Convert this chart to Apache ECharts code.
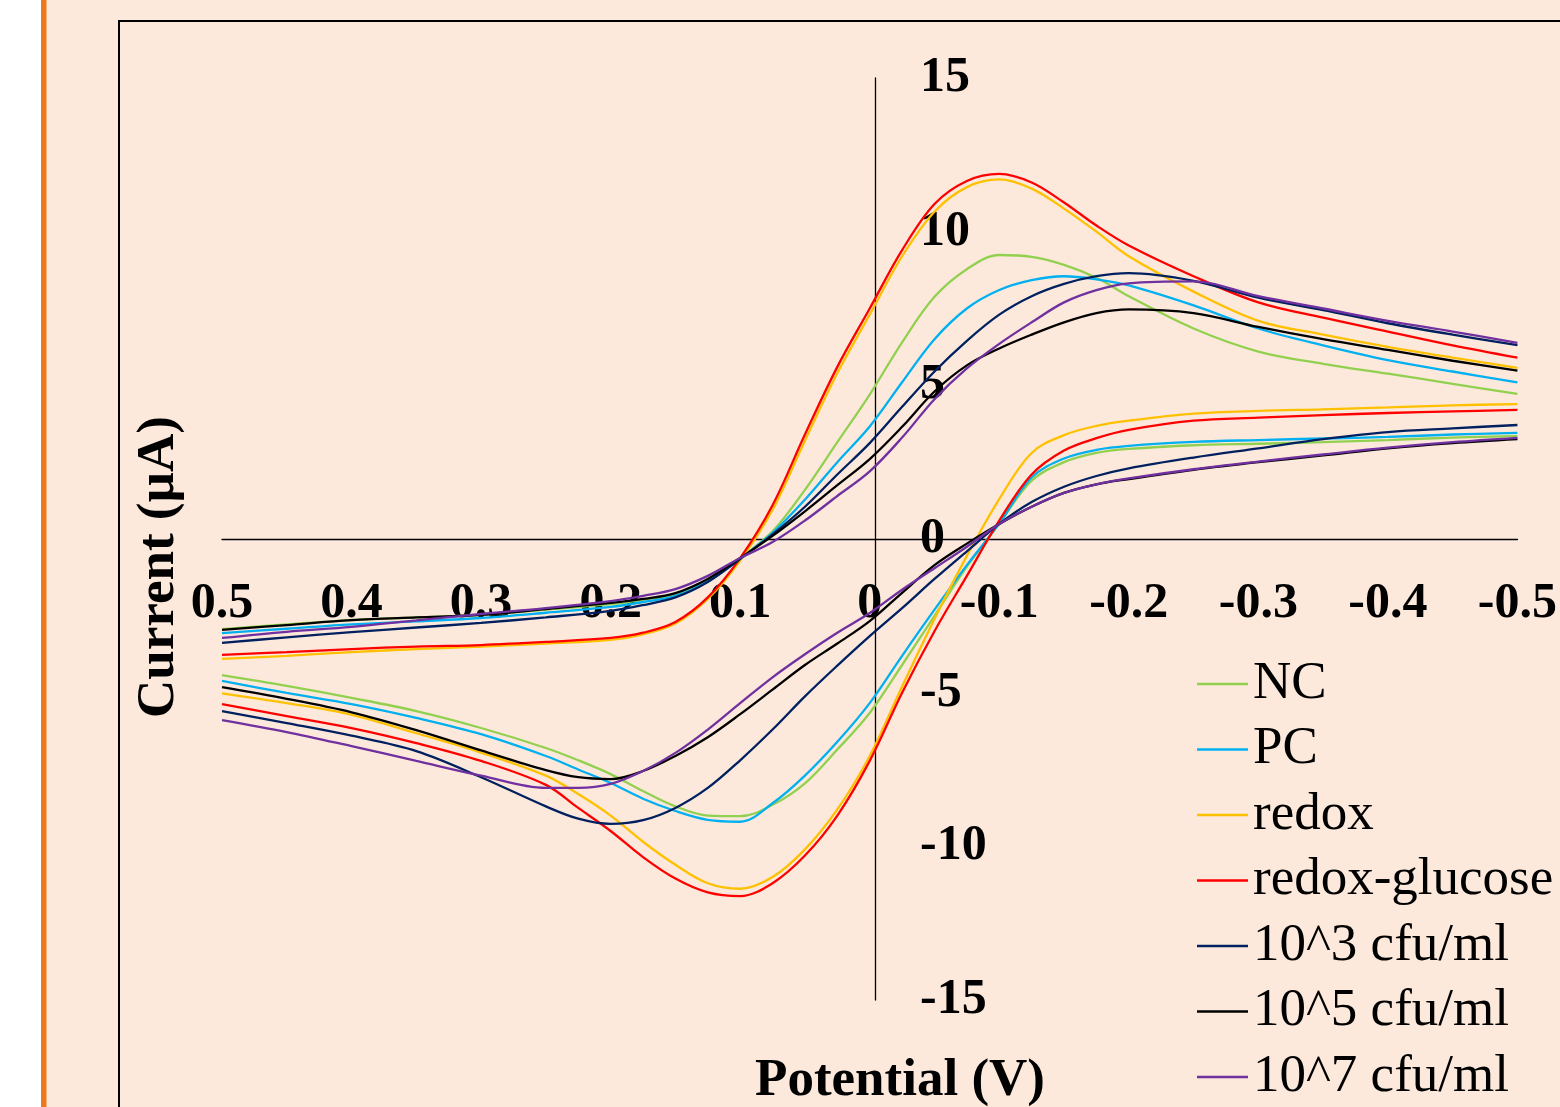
<!DOCTYPE html>
<html>
<head>
<meta charset="utf-8">
<script src="https://cdn.jsdelivr.net/npm/echarts@6/dist/echarts.min.js"></script>
<style>
html,body{margin:0;padding:0;background:#ffffff;}
#chart{width:1560px;height:1107px;}
</style>
</head>
<body>
<div id="chart"></div>
<script>
// Potential (V) sampled along the forward and reverse sweeps
const potentialForward = [0.5,0.45,0.4,0.35,0.3,0.25,0.2,0.175,0.15,0.125,0.1,0.075,0.05,0.025,0,-0.025,-0.05,-0.075,-0.1,-0.125,-0.15,-0.175,-0.2,-0.25,-0.3,-0.35,-0.4,-0.45,-0.5];
const potentialReverse = [-0.5,-0.45,-0.4,-0.35,-0.3,-0.25,-0.2,-0.175,-0.15,-0.125,-0.1,-0.075,-0.05,-0.025,0,0.025,0.05,0.075,0.1,0.125,0.15,0.175,0.2,0.225,0.25,0.3,0.35,0.4,0.45,0.5];

// Current (µA)
const ncForward = [-2.93,-2.78,-2.64,-2.55,-2.47,-2.3,-2.12,-1.98,-1.79,-1.32,-0.62,0.25,1.6,3.15,4.7,6.4,7.88,8.78,9.24,9.18,8.92,8.5,7.9,6.85,6.1,5.7,5.38,5.05,4.72];
const ncReverse = [3.35,3.3,3.22,3.15,3.1,3.05,2.93,2.8,2.5,1.9,0.5,-0.9,-2.5,-4.1,-5.66,-6.85,-7.95,-8.65,-9.02,-9.0,-8.7,-8.2,-7.65,-7.2,-6.8,-6.15,-5.6,-5.17,-4.78,-4.43];

const pcForward = [-3.06,-2.92,-2.78,-2.68,-2.57,-2.4,-2.21,-2.05,-1.85,-1.38,-0.64,0.2,1.28,2.5,3.66,5.1,6.5,7.5,8.1,8.42,8.55,8.45,8.25,7.6,6.85,6.3,5.82,5.45,5.1];
const pcReverse = [3.45,3.4,3.32,3.27,3.22,3.16,3.03,2.9,2.62,2.0,0.5,-0.85,-2.3,-3.8,-5.34,-6.6,-7.7,-8.6,-9.2,-9.14,-8.85,-8.45,-7.94,-7.5,-7.06,-6.35,-5.82,-5.37,-5.01,-4.62];

const redoxForward = [-3.9,-3.8,-3.68,-3.58,-3.5,-3.4,-3.28,-3.1,-2.75,-1.95,-0.7,0.95,3.2,5.4,7.3,9.2,10.65,11.45,11.7,11.4,10.75,10.0,9.2,8.05,7.1,6.65,6.25,5.9,5.57];
const redoxReverse = [4.39,4.35,4.28,4.22,4.17,4.08,3.85,3.68,3.38,2.8,1.3,-0.55,-2.6,-4.8,-7.06,-8.8,-10.1,-11.0,-11.38,-11.2,-10.6,-9.85,-9.0,-8.3,-7.7,-6.95,-6.32,-5.72,-5.34,-5.02];

const glucoseForward = [-3.77,-3.68,-3.58,-3.5,-3.45,-3.35,-3.22,-3.05,-2.7,-1.9,-0.62,1.1,3.4,5.6,7.5,9.4,10.9,11.65,11.88,11.6,10.95,10.2,9.55,8.55,7.7,7.2,6.75,6.3,5.9];
const glucoseReverse = [4.2,4.15,4.1,4.03,3.95,3.85,3.55,3.28,2.88,2.1,0.6,-1.2,-3.0,-5.0,-7.22,-9.0,-10.3,-11.2,-11.62,-11.5,-11.05,-10.35,-9.5,-8.75,-8.0,-7.22,-6.64,-6.15,-5.76,-5.37];

const cfu3Forward = [-3.38,-3.2,-3.03,-2.88,-2.73,-2.55,-2.34,-2.15,-1.9,-1.4,-0.65,0.15,1.05,2.1,3.12,4.3,5.45,6.45,7.3,7.9,8.3,8.55,8.65,8.4,7.85,7.45,7.02,6.65,6.31];
const cfu3Reverse = [3.71,3.6,3.48,3.25,2.95,2.65,2.3,2.05,1.7,1.2,0.49,-0.4,-1.3,-2.25,-3.16,-4.12,-5.12,-6.2,-7.2,-8.1,-8.75,-9.15,-9.27,-9.1,-8.7,-7.75,-6.9,-6.4,-5.99,-5.6];

const cfu5Forward = [-2.96,-2.8,-2.64,-2.55,-2.47,-2.28,-2.08,-1.95,-1.76,-1.3,-0.62,0.1,0.9,1.75,2.6,3.65,4.8,5.65,6.2,6.65,7.05,7.35,7.47,7.35,6.9,6.5,6.15,5.8,5.48];
const cfu5Reverse = [3.25,3.12,2.95,2.72,2.5,2.25,1.95,1.78,1.5,1.05,0.49,-0.15,-0.85,-1.75,-2.67,-3.4,-4.1,-4.9,-5.7,-6.45,-7.06,-7.55,-7.81,-7.75,-7.52,-6.88,-6.22,-5.64,-5.2,-4.82];

const cfu7Forward = [-3.22,-3.02,-2.86,-2.65,-2.44,-2.25,-2.02,-1.85,-1.63,-1.2,-0.62,-0.1,0.6,1.4,2.2,3.3,4.55,5.55,6.35,7.05,7.7,8.1,8.32,8.38,7.9,7.5,7.1,6.75,6.38];
const cfu7Reverse = [3.29,3.15,2.97,2.75,2.52,2.27,1.97,1.78,1.5,1.05,0.49,-0.25,-0.95,-1.65,-2.41,-3.05,-3.75,-4.5,-5.34,-6.2,-6.96,-7.55,-7.97,-8.1,-8.1,-7.7,-7.22,-6.74,-6.28,-5.89];

const seriesNames = ['NC','PC','redox','redox-glucose','10^3 cfu/ml','10^5 cfu/ml','10^7 cfu/ml'];
const seriesColors = ['#92D050','#00B0F0','#FFC000','#FF0000','#002060','#000000','#7030A0'];
const forwardSets = [ncForward,pcForward,redoxForward,glucoseForward,cfu3Forward,cfu5Forward,cfu7Forward];
const reverseSets = [ncReverse,pcReverse,redoxReverse,glucoseReverse,cfu3Reverse,cfu5Reverse,cfu7Reverse];

const xAxisTitle = 'Potential (V)';
const yAxisTitle = 'Current (µA)';

const FONT = "'Liberation Serif','Times New Roman',serif";

function pairs(xs, ys){ return xs.map((x,i)=>[x, ys[i]]); }

const series = [];
seriesNames.forEach((name,i)=>{
  [pairs(potentialForward, forwardSets[i]), pairs(potentialReverse, reverseSets[i])].forEach(d=>{
    series.push({
      name: name,
      type: 'line',
      data: d,
      smooth: 0.35,
      symbol: 'none',
      lineStyle: {color: seriesColors[i], width: 2.3},
      itemStyle: {color: seriesColors[i]},
      emphasis: {disabled: true},
      animation: false
    });
  });
});

const chart = echarts.init(document.getElementById('chart'), null, {renderer:'canvas'});
chart.setOption({
  backgroundColor: '#FCE9DB',
  animation: false,
  grid: {left: 222, right: 32, top: 78, bottom: 107},
  xAxis: {
    type: 'value', inverse: true, min: -0.5, max: 0.5, interval: 0.1,
    position: 'bottom', offset: -461,
    axisLine: {onZero: false, lineStyle: {color: '#000', width: 1.3}},
    axisTick: {show: false},
    splitLine: {show: false},
    axisLabel: {
      margin: 40, fontSize: 50, fontWeight: 'bold', fontFamily: FONT, color: '#000',
      showMinLabel: true, showMaxLabel: true,
      formatter: v => String(Math.round(v*10)/10)
    }
  },
  yAxis: {
    type: 'value', min: -15, max: 15, interval: 5,
    position: 'left', offset: -653,
    axisLine: {onZero: false, lineStyle: {color: '#000', width: 1.3}},
    axisTick: {show: false},
    splitLine: {show: false},
    axisLabel: {
      inside: true, margin: 45, align: 'left', fontSize: 50, fontWeight: 'bold', fontFamily: FONT, color: '#000',
      showMinLabel: true, showMaxLabel: true
    }
  },
  legend: {
    data: seriesNames.map(n=>({name:n, icon:'rect'})),
    orient: 'vertical', left: 1197, top: 654, padding: 0,
    itemWidth: 51, itemHeight: 2.5, itemGap: 5.5,
    selectedMode: false,
    textStyle: {fontFamily: FONT, fontSize: 53, color: '#000', lineHeight: 60}
  },
  graphic: [
    {type:'rect', shape:{x:0, y:0, width:41, height:1107}, style:{fill:'#ffffff'}, z:-10, silent:true},
    {type:'rect', shape:{x:41, y:0, width:5.5, height:1107}, style:{fill:'#EC7A1C'}, z:-10, silent:true},
    {type:'polyline', shape:{points:[[119,1110],[119,21],[1562,21]]}, style:{stroke:'#000', lineWidth:2, fill:null}, z:-5, silent:true},
    {type:'text', x:900, y:1081, z:5, silent:true,
      style:{text:xAxisTitle, font:"bold 53px "+FONT, fill:'#000', textAlign:'center', textVerticalAlign:'middle', align:'center', verticalAlign:'middle'}},
    {type:'text', x:159, y:567, rotation:Math.PI/2, z:5, silent:true,
      style:{text:yAxisTitle, font:"bold 53px "+FONT, fill:'#000', textAlign:'center', textVerticalAlign:'middle', align:'center', verticalAlign:'middle'}}
  ],
  series: series
});
</script>
</body>
</html>
